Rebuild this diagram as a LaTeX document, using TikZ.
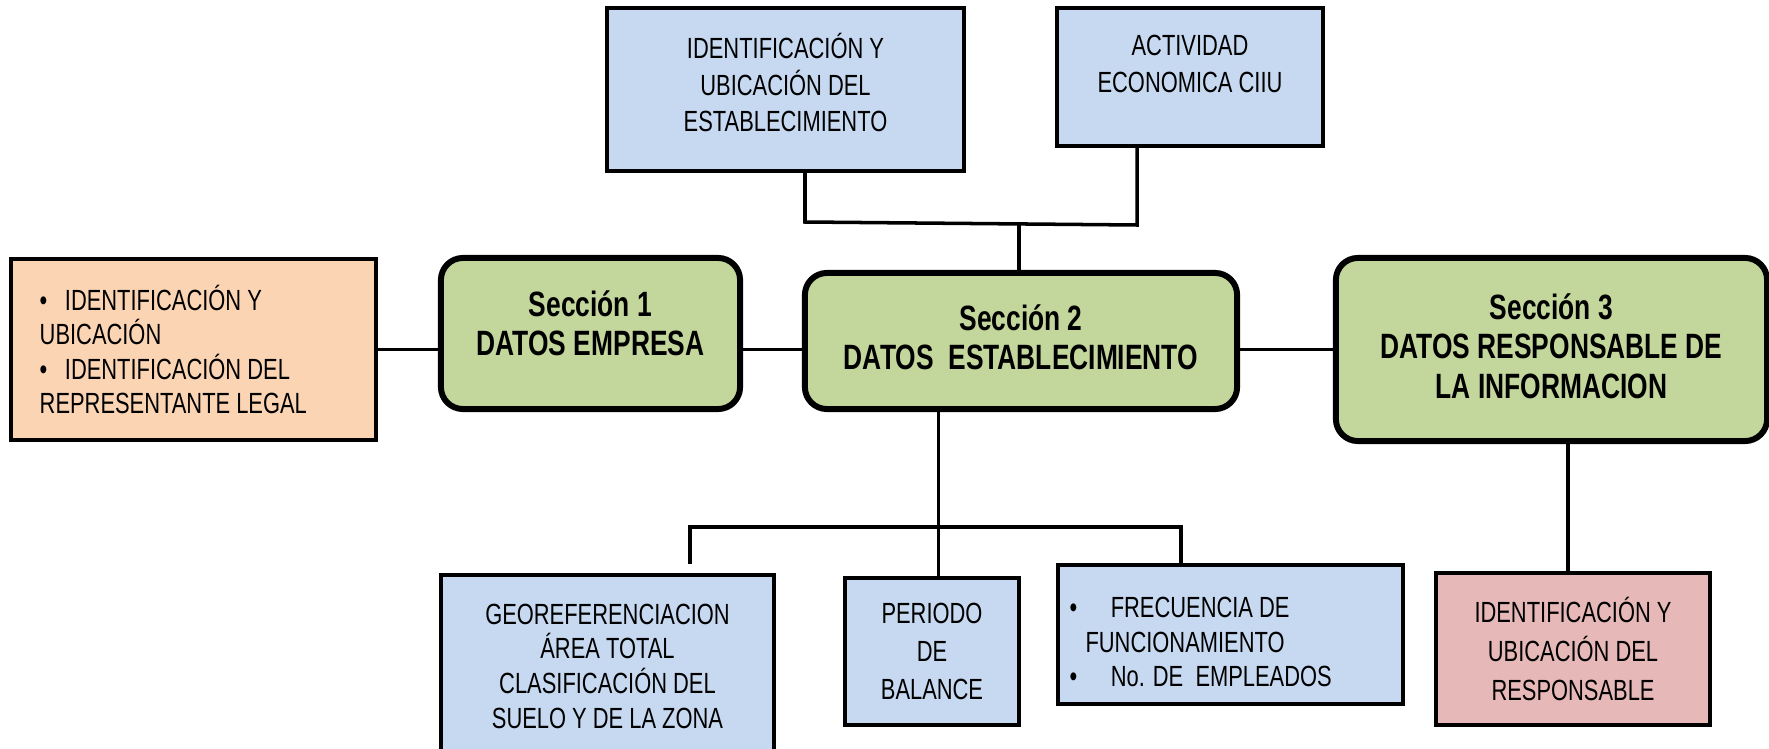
\documentclass[tikz,border=0pt]{standalone}
\usepackage{fontspec}
\setmainfont{Liberation Sans}[FakeStretch=0.75]
\usetikzlibrary{calc}
\definecolor{boxblue}{RGB}{198,217,241}
\definecolor{secgreen}{RGB}{195,214,155}
\definecolor{boxorange}{RGB}{251,212,180}
\definecolor{boxpink}{RGB}{230,185,184}

\begin{document}
\begin{tikzpicture}[x=0.01cm,y=0.01cm,
  infobox/.style={draw, line width=1pt, inner sep=0pt, font=\fontsize{8.3}{10.4}\selectfont, align=center},
  infotext/.style={inner sep=0pt, font=\fontsize{8.3}{10.4}\selectfont, align=center},
  secbox/.style={draw, line width=1.7pt, rounded corners=0.22cm, fill=secgreen, inner sep=0pt},
  sectext/.style={inner sep=0pt, font=\fontsize{10}{11.2}\selectfont\bfseries, align=center},
  link/.style={line width=1pt}]
\clip (0,0) rectangle (1769,748);
% top row
\node[infobox, fill=boxblue, minimum width=3.57cm, minimum height=1.63cm] (ubest) at (785.5,658.5) {};
\node[infotext] (ubestt) at (785.5,665.5) {IDENTIFICACIÓN Y\\UBICACIÓN DEL\\ESTABLECIMIENTO};
\node[infobox, fill=boxblue, minimum width=2.66cm, minimum height=1.38cm] (ciiu) at (1190,671) {};
\node[infotext] (ciiut) at (1190,684) {ACTIVIDAD\\ECONOMICA CIIU};
% middle row
\node[infobox, fill=boxorange, minimum width=3.65cm, minimum height=1.81cm] (rep) at (193.5,398.5) {};
\node[infotext, anchor=west, align=left, font=\fontsize{8.3}{9.7}\selectfont] (rept) at (39,398.5) {\textbullet\hspace{5pt}IDENTIFICACIÓN Y\\UBICACIÓN\\\textbullet\hspace{5pt}IDENTIFICACIÓN DEL\\REPRESENTANTE LEGAL};
\node[secbox, minimum width=2.99cm, minimum height=1.51cm] (s1) at (590.5,414.5) {};
\node[sectext] (s1t) at (590.5,425) {Sección 1\\DATOS EMPRESA};
\node[secbox, minimum width=4.32cm, minimum height=1.36cm] (s2) at (1021,407) {};
\node[sectext] (s2t) at (1021,411) {Sección 2\\DATOS\ \ ESTABLECIMIENTO};
\node[secbox, minimum width=4.31cm, minimum height=1.83cm] (s3) at (1551.5,398.5) {};
\node[sectext] (s3t) at (1551.5,402) {Sección 3\\DATOS RESPONSABLE DE\\LA INFORMACION};
% bottom row
\node[infobox, fill=boxblue, minimum width=3.33cm, minimum height=2.15cm] (geo) at (607.5,65.5) {};
\node[infotext, font=\fontsize{8.3}{9.85}\selectfont] (geot) at (607.5,82) {GEOREFERENCIACION\\ÁREA TOTAL\\CLASIFICACIÓN DEL\\SUELO Y DE LA ZONA};
\node[infobox, fill=boxblue, minimum width=1.74cm, minimum height=1.47cm, font=\fontsize{8.3}{10.9}\selectfont] (per) at (932,96.5) {PERIODO\\DE\\BALANCE};
\node[infobox, fill=boxblue, minimum width=3.45cm, minimum height=1.39cm] (fre) at (1230.5,113.5) {};
\node[infotext, anchor=west, align=left, font=\fontsize{8.3}{9.8}\selectfont] (fret) at (1069,106) {\textbullet\hspace{9.5pt}FRECUENCIA DE\\\hspace{4.5pt}FUNCIONAMIENTO\\\textbullet\hspace{9.5pt}No. DE\ \ EMPLEADOS};
\node[infobox, fill=boxpink, minimum width=2.74cm, minimum height=1.52cm, font=\fontsize{8.3}{11.2}\selectfont] (resp) at (1573,99) {IDENTIFICACIÓN Y\\UBICACIÓN DEL\\RESPONSABLE};
% connectors
\coordinate (tl) at (805,526);
\coordinate (tr) at (1137,523);
\coordinate (tm) at (1019,524);
\draw[link] (ubest.south -| tl) -- (tl) -- (tr) -- (ciiu.south -| tr);
\draw[link] (s2.north -| tm) -- (tm);
\draw[link] (rep.east) -- (rep.east -| s1.west);
\draw[link] (s1.east |- rep.east) -- (s2.west |- rep.east);
\draw[link] (s2.east |- rep.east) -- (s3.west |- rep.east);
\coordinate (bl) at (690,221);
\coordinate (bm) at (938.5,221);
\coordinate (br) at (1181,221);
\coordinate (geotop) at (690,184);
\coordinate (rv) at (1568,0);
\draw[link] (geotop) -- (bl) -- (br) -- (fre.north -| br);
\draw[link] (s2.south -| bm) -- (per.north -| bm);
\draw[link] (s3.south -| rv) -- (resp.north -| rv);
\end{tikzpicture}
\end{document}
